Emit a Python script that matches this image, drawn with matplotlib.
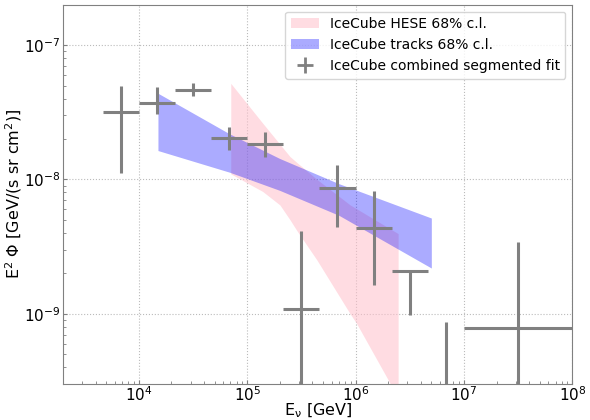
import numpy as np
import matplotlib
matplotlib.use("Agg")
import matplotlib.pyplot as plt
from matplotlib.lines import Line2D
from matplotlib.patches import Patch

# Combined segmented fit: energy bins [GeV] and E^2 flux with 68% bounds
bin_center = [6.8e3, 1.47e4, 3.16e4, 6.8e4, 1.47e5, 3.16e5, 6.8e5, 1.47e6, 3.16e6, 6.8e6, 3.16e7]
bin_low = [4.64e3, 1.0e4, 2.15e4, 4.64e4, 1.0e5, 2.15e5, 4.64e5, 1.0e6, 2.15e6, 4.64e6, 1.0e7]
bin_high = [1.0e4, 2.15e4, 4.64e4, 1.0e5, 2.15e5, 4.64e5, 1.0e6, 2.15e6, 4.64e6, 1.0e7, 1.0e8]
flux = [3.16e-8, 3.69e-8, 4.66e-8, 2.05e-8, 1.85e-8, 1.08e-9, 8.6e-9, 4.38e-9, 2.07e-9, 1.0e-10, 7.8e-10]
flux_low = [1.11e-8, 3.08e-8, 4.21e-8, 1.66e-8, 1.47e-8, 1.0e-11, 4.43e-9, 1.63e-9, 9.77e-10, 1.0e-10, 1.0e-11]
flux_high = [4.99e-8, 4.84e-8, 5.19e-8, 2.44e-8, 2.27e-8, 4.13e-9, 1.27e-8, 8.15e-9, 2.07e-9, 8.73e-10, 3.43e-9]

# HESE 68% band
hese_E = [7.05e4, 1.39e5, 2.0e5, 2.48e5, 2.86e5, 4.4e5, 8.9e5, 1.02e6, 2.08e6, 2.47e6]
hese_upper = [5.19e-8, 2.62e-8, 1.83e-8, 1.48e-8, 1.34e-8, 1.0e-8, 6.46e-9, 6.05e-9, 4.29e-9, 3.95e-9]
hese_lower = [1.10e-8, 8.13e-9, 6.46e-9, 5.01e-9, 4.18e-9, 2.51e-9, 1.0e-9, 8.49e-10, 3.04e-10, 2.34e-10]

# Through-going tracks 68% band
tracks_E = [1.5e4, 6.9e4, 2.0e5, 7.0e5, 5.0e6]
tracks_upper = [4.38e-8, 2.18e-8, 1.43e-8, 9.3e-9, 5.16e-9]
tracks_lower = [1.64e-8, 1.13e-8, 8.28e-9, 5.41e-9, 2.19e-9]

# Axis ticks
x_ticks = [1e4, 1e5, 1e6, 1e7, 1e8]
y_ticks = [1e-9, 1e-8, 1e-7]

plt.rcParams['font.family'] = ['DejaVu Sans']
plt.rcParams['mathtext.default'] = 'regular'

fig = plt.figure(figsize=(5.9, 4.2), dpi=100)
ax = fig.add_axes([0.107, 0.0857, 0.863, 0.9033])

ax.set_xscale('log')
ax.set_yscale('log')

ax.fill_between(hese_E, hese_lower, hese_upper, color='pink', alpha=0.55, lw=0, zorder=2)
ax.fill_between(tracks_E, tracks_lower, tracks_upper, color='blue', alpha=0.33, lw=0, zorder=3)

c = np.array(bin_center)
f = np.array(flux)
xerr = [c - np.array(bin_low), np.array(bin_high) - c]
yerr = [f - np.array(flux_low), np.array(flux_high) - f]
ax.errorbar(c, f, xerr=xerr, yerr=yerr, fmt='none', ecolor='gray', elinewidth=2.2,
            capsize=0, zorder=4)

ax.set_xticks(x_ticks)
ax.set_yticks(y_ticks)
ax.set_xlim(2e3, 1e8)
ax.set_ylim(3e-10, 2e-7)

ax.grid(True, which='major', color='#bbbbbb', linestyle=':', linewidth=0.8)
for s in ax.spines.values():
    s.set_color('gray')
ax.tick_params(which='both', direction='in', colors='gray', labelcolor='black',
               labelsize=11)
ax.tick_params(axis='x', which='both', pad=1)
ax.tick_params(axis='y', which='both', pad=2)
ax.tick_params(which='major', length=3)
ax.tick_params(which='minor', length=2)

ax.set_xlabel(r'E$_\nu$ [GeV]', fontsize=11.5)
ax.xaxis.set_label_coords(0.5, -0.046)
ax.set_ylabel(r'E$^2$ $\Phi$ [GeV/(s sr cm$^2$)]', fontsize=11.5)
ax.yaxis.set_label_coords(-0.076, 0.5)

handles = [Patch(facecolor='pink', alpha=0.55, lw=0),
           Patch(facecolor='blue', alpha=0.33, lw=0),
           Line2D([], [], color='gray', marker='+', markersize=12, mew=2, ls='none')]
labels = ['IceCube HESE 68% c.l.', 'IceCube tracks 68% c.l.', 'IceCube combined segmented fit']
ax.legend(handles, labels, loc='upper right', fontsize=10)

fig.savefig('out.png', dpi=100)
